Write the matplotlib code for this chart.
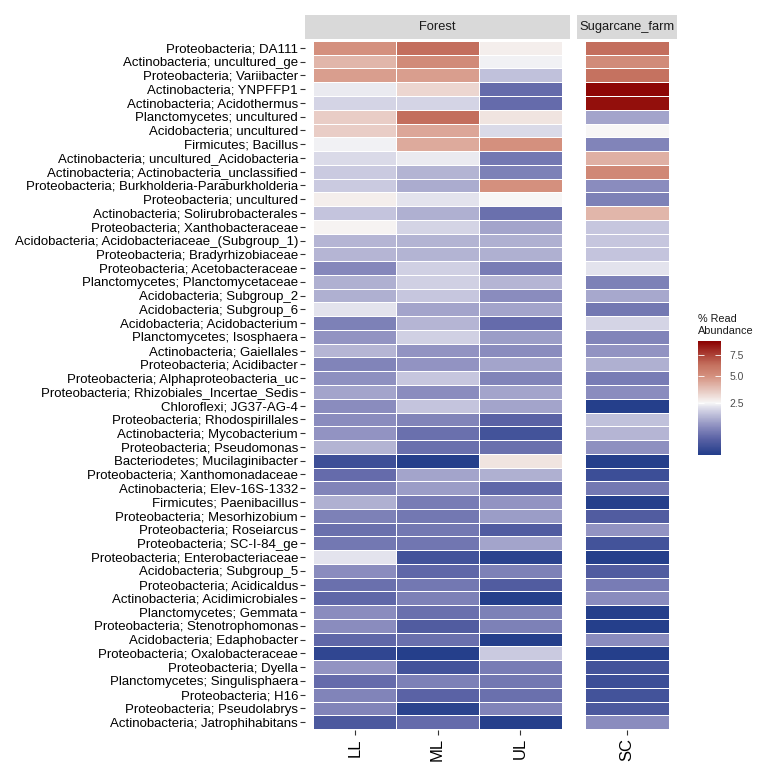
import numpy as np
import matplotlib
matplotlib.use("Agg")
import matplotlib.pyplot as plt
from matplotlib.colors import LinearSegmentedColormap, FuncNorm

plt.rcParams['font.family'] = ['Liberation Sans', 'DejaVu Sans']

# DATA-----------------------------------------------------------------------------------------------------------------
taxa = [
    "Proteobacteria; DA111", "Actinobacteria; uncultured_ge", "Proteobacteria; Variibacter",
    "Actinobacteria; YNPFFP1", "Actinobacteria; Acidothermus", "Planctomycetes; uncultured",
    "Acidobacteria; uncultured", "Firmicutes; Bacillus", "Actinobacteria; uncultured_Acidobacteria",
    "Actinobacteria; Actinobacteria_unclassified", "Proteobacteria; Burkholderia-Paraburkholderia",
    "Proteobacteria; uncultured", "Actinobacteria; Solirubrobacterales", "Proteobacteria; Xanthobacteraceae",
    "Acidobacteria; Acidobacteriaceae_(Subgroup_1)", "Proteobacteria; Bradyrhizobiaceae",
    "Proteobacteria; Acetobacteraceae", "Planctomycetes; Planctomycetaceae", "Acidobacteria; Subgroup_2",
    "Acidobacteria; Subgroup_6", "Acidobacteria; Acidobacterium", "Planctomycetes; Isosphaera",
    "Actinobacteria; Gaiellales", "Proteobacteria; Acidibacter", "Proteobacteria; Alphaproteobacteria_uc",
    "Proteobacteria; Rhizobiales_Incertae_Sedis", "Chloroflexi; JG37-AG-4", "Proteobacteria; Rhodospirillales",
    "Actinobacteria; Mycobacterium", "Proteobacteria; Pseudomonas", "Bacteriodetes; Mucilaginibacter",
    "Proteobacteria; Xanthomonadaceae", "Actinobacteria; Elev-16S-1332", "Firmicutes; Paenibacillus",
    "Proteobacteria; Mesorhizobium", "Proteobacteria; Roseiarcus", "Proteobacteria; SC-I-84_ge",
    "Proteobacteria; Enterobacteriaceae", "Acidobacteria; Subgroup_5", "Proteobacteria; Acidicaldus",
    "Actinobacteria; Acidimicrobiales", "Planctomycetes; Gemmata", "Proteobacteria; Stenotrophomonas",
    "Acidobacteria; Edaphobacter", "Proteobacteria; Oxalobacteraceae", "Proteobacteria; Dyella",
    "Planctomycetes; Singulisphaera", "Proteobacteria; H16", "Proteobacteria; Pseudolabrys",
    "Actinobacteria; Jatrophihabitans",
]

LL = [5.0, 4.0, 4.6, 2.3, 2.0, 3.4, 3.4, 2.4, 2.1, 1.85,
      1.85, 2.7, 1.75, 2.6, 1.55, 1.55, 0.95, 1.45, 1.45, 2.2,
      0.85, 1.1, 1.55, 0.9, 1.05, 1.3, 1.0, 1.0, 1.1, 1.5,
      0.27, 0.6, 0.9, 1.45, 0.85, 0.65, 0.75, 2.2, 1.0, 0.65,
      0.55, 1.0, 1.0, 0.55, 0.18, 1.1, 0.6, 0.9, 0.9, 0.38]
ML = [6.3, 5.2, 4.6, 3.2, 2.0, 6.3, 4.4, 4.3, 2.3, 1.5,
      1.4, 2.2, 1.45, 2.0, 1.5, 1.5, 1.95, 1.95, 1.8, 1.3,
      1.55, 1.95, 1.1, 1.1, 1.8, 1.0, 1.75, 0.9, 0.65, 0.65,
      0.12, 1.3, 1.2, 0.8, 0.75, 0.75, 0.72, 0.3, 0.55, 0.75,
      0.85, 0.65, 0.42, 0.65, 0.12, 0.3, 0.85, 0.5, 0.15, 0.6]
UL = [2.7, 2.4, 1.7, 0.6, 0.6, 2.9, 2.1, 5.0, 0.75, 0.85,
      5.0, 2.5, 0.65, 1.3, 1.45, 1.45, 0.8, 1.55, 1.0, 1.3,
      0.6, 1.2, 1.0, 1.3, 0.9, 1.3, 1.3, 0.5, 0.3, 0.65,
      2.9, 1.45, 0.55, 1.1, 1.2, 0.42, 1.3, 0.15, 0.85, 0.42,
      0.12, 0.85, 0.85, 0.12, 1.85, 0.8, 0.75, 0.65, 0.9, 0.12]
SC = [6.3, 5.2, 6.2, 9.3, 9.0, 1.3, 2.5, 0.9, 4.1, 5.3,
      1.0, 0.85, 4.0, 1.8, 1.8, 1.75, 2.2, 0.85, 1.35, 0.75,
      2.0, 0.9, 1.1, 1.45, 0.8, 1.0, 0.12, 1.7, 1.55, 1.05,
      0.12, 0.25, 0.75, 0.12, 0.42, 1.1, 0.3, 0.12, 0.42, 0.8,
      1.0, 0.12, 0.12, 1.0, 0.12, 0.3, 0.25, 0.3, 0.38, 1.0]

forest_sites = ["LL", "ML", "UL"]
farm_sites = ["SC"]
cbar_ticks = [2.5, 5.0, 7.5]

# COLOURS --------------------------------------------------------------------------------------------------------------
vmin, vmax = 0.1, 9.5
norm = FuncNorm((np.sqrt, np.square), vmin=vmin, vmax=vmax)


def frac(v):
    return (np.sqrt(v) - np.sqrt(vmin)) / (np.sqrt(vmax) - np.sqrt(vmin))


cmap = LinearSegmentedColormap.from_list("readabund", [
    (0.0, "#223d8a"),
    (frac(0.5), "#5a62a5"),
    (frac(1.0), "#8a8cbe"),
    (frac(2.0), "#d4d4e5"),
    (frac(2.5), "#f7f7f7"),
    (frac(5.0), "#d4907e"),
    (frac(6.3), "#c4705e"),
    (1.0, "#8b0000"),
])

# FIGURE ---------------------------------------------------------------------------------------------------------------
W, H = 767, 774
fig = plt.figure(figsize=(W / 100, H / 100), dpi=100)


def px_axes(x0, y0, x1, y1):
    # pixel box (top-left origin) -> figure axes
    return fig.add_axes([x0 / W, 1 - y1 / H, (x1 - x0) / W, (y1 - y0) / H])


n = len(taxa)
panel_top, panel_bot = 39.6, 730.4

panels = [
    ("Forest", forest_sites, [LL, ML, UL], 305, 570),
    ("Sugarcane_farm", farm_sites, [SC], 577, 677),
]

for i, (name, sites, cols, x0, x1) in enumerate(panels):
    ax = px_axes(x0, panel_top, x1, panel_bot)
    vals = np.array(cols).T
    ax.pcolormesh(np.arange(len(sites) + 1) - 0.5, np.arange(n + 1) - 0.5, vals,
                  cmap=cmap, norm=norm, edgecolor="white", linewidth=0.65)
    ax.set_xlim(-0.6, len(sites) - 0.4)
    ax.set_ylim(n - 0.4, -0.6)
    for s in ax.spines.values():
        s.set_visible(False)
    ax.set_xticks(range(len(sites)))
    ax.set_xticklabels(sites, rotation=90, fontsize=12, color="black")
    ax.tick_params(axis="x", length=3.5, width=0.8, color="#333333", pad=2)
    if i == 0:
        ax.set_yticks(range(n))
        ax.set_yticklabels(taxa, fontsize=9.5, color="black")
        ax.tick_params(axis="y", length=3.5, width=0.8, color="#333333", pad=1.5)
    else:
        ax.set_yticks([])

    strip = px_axes(x0, 15, x1, 39)
    strip.set_facecolor("#d9d9d9")
    strip.set_xticks([])
    strip.set_yticks([])
    for s in strip.spines.values():
        s.set_visible(False)
    strip.text(0.5, 0.5, name, ha="center", va="center", fontsize=9.3, color="#1a1a1a",
               transform=strip.transAxes)

# colourbar
cax = px_axes(698, 341, 721, 455)
sm = plt.cm.ScalarMappable(norm=norm, cmap=cmap)
cb = fig.colorbar(sm, cax=cax)
cb.outline.set_visible(False)
cb.set_ticks(cbar_ticks)
cb.set_ticklabels(["2.5", "5.0", "7.5"])
cax.yaxis.set_ticks_position("both")
cax.tick_params(axis="y", direction="in", length=4.5, width=0.6, color="white",
                labelsize=7.5, labelcolor="#4d4d4d", pad=6)
fig.text(698 / W, 1 - 314 / H, "% Read\nAbundance", ha="left", va="top", fontsize=7.8,
         color="#1a1a1a", linespacing=1.25)

fig.savefig("out.png", dpi=100)
